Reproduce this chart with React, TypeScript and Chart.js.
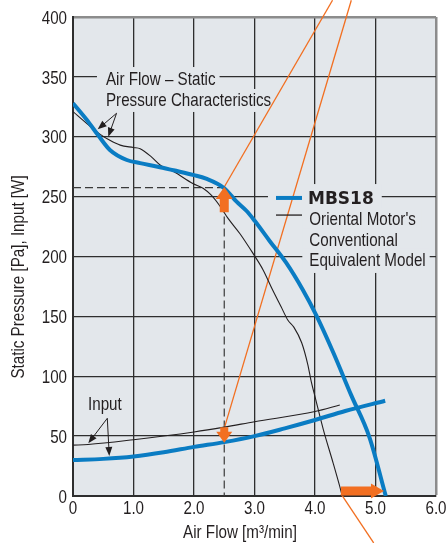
import React, { useEffect, useRef } from 'react';
import { Chart, registerables } from 'chart.js';

Chart.register(...registerables);

// ---------------- data ----------------
const xTickValues = [0, 1, 2, 3, 4, 5, 6];
const xTickLabels = ['0', '1.0', '2.0', '3.0', '4.0', '5.0', '6.0'];
const yTickValues = [0, 50, 100, 150, 200, 250, 300, 350, 400];
const yTickLabels = ['0', '50', '100', '150', '200', '250', '300', '350', '400'];

// MBS18 air flow – static pressure
const mbs18PressureFlow = [0, 0.23, 0.42, 0.61, 0.89, 1.11, 1.4, 1.66, 2.0, 2.2, 2.5, 2.7, 2.87, 3.0, 3.25, 3.52, 3.8, 4.02, 4.3, 4.6, 4.9, 5.17];
const mbs18Pressure = [328, 314, 301, 289, 280.6, 278, 275, 272, 268, 265, 257, 246, 238, 230, 213, 195, 172, 151, 120, 84, 49, 0];

// Conventional model air flow – static pressure
const convPressureFlow = [0, 0.23, 0.45, 0.61, 0.78, 1.0, 1.11, 1.3, 1.45, 1.66, 1.98, 2.15, 2.29, 2.43, 2.56, 2.76, 2.97, 3.14, 3.3, 3.44, 3.55, 3.65, 3.78, 3.88, 3.94, 4.0, 4.14, 4.3, 4.41, 4.45];
const convPressure = [321, 311, 302, 297, 293, 291, 290, 283, 276, 271, 261, 257, 251, 242, 232, 219, 203, 189, 172, 158, 147, 141, 128, 110, 95, 83, 55, 27.5, 7.8, 0];

// MBS18 input
const mbs18InputFlow = [0, 0.5, 1.0, 1.5, 2.0, 2.5, 3.0, 3.5, 4.0, 4.5, 5.16];
const mbs18Input = [30, 31, 33, 36.5, 41, 45, 50, 56.5, 63.5, 71, 79.5];

// Conventional model input
const convInputFlow = [0, 0.25, 1.0, 2.0, 2.5, 3.0, 4.0, 4.41];
const convInput = [42.5, 43, 47, 53.5, 57.5, 62, 70.5, 76];

// operating point reference (dashed)
const operatingFlow = [0, 2.5, 2.5];
const operatingValue = [257.5, 257.5, 0];

// orange improvement guide lines
const guidePressureFlow = [2.5, 4.29];
const guidePressureValue = [258, 414];
const guideInputFlow = [2.5, 4.6];
const guideInputValue = [56.5, 414];
const guideFlowFlow = [4.43, 4.97];
const guideFlowValue = [1.7, -39.2];

// orange block arrows [x1, y1, x2, y2]
const pressureArrow = [2.5, 237, 2.5, 258];
const inputArrow = [2.5, 57.5, 2.5, 44.5];
const flowArrow = [4.43, 4.2, 5.14, 4.2];

// annotation pointers
const pressurePointerFrom = [0.72, 319.6];
const pressurePointerTo = [[0.408, 306.2], [0.583, 300]];
const inputPointerFrom = [0.567, 64.9];
const inputPointerTo = [[0.253, 44], [0.6, 33.4]];

// ---------------- styles ----------------
const BLUE = '#0a7cc3';
const ORANGE = '#f26f21';
const BLACK = '#231f20';
const GRID = '#2e2e2e';
const EDGE = '#8c8c8c';
const PLOT_BG = '#e3e7eb';
const SANS = '"Liberation Sans", Arial, sans-serif';
const FS = 18.5;
const SX = 0.82; // horizontal condensation

const pts = (xs: number[], ys: number[]) => xs.map((x, i) => ({ x, y: ys[i] }));

function condensedText(ctx: CanvasRenderingContext2D, text: string, x: number, y: number, align: CanvasTextAlign, sx: number, rot = 0) {
  ctx.save();
  ctx.translate(x, y);
  if (rot) ctx.rotate(rot);
  ctx.scale(sx, 1);
  ctx.textAlign = align;
  ctx.textBaseline = 'alphabetic';
  ctx.fillText(text, 0, 0);
  ctx.restore();
}

function thinArrow(ctx: CanvasRenderingContext2D, x1: number, y1: number, x2: number, y2: number) {
  const dx = x2 - x1, dy = y2 - y1;
  const len = Math.hypot(dx, dy);
  const ux = dx / len, uy = dy / len;
  const nx = -uy, ny = ux;
  const hl = 9, hw = 3.5;
  ctx.beginPath();
  ctx.moveTo(x1, y1);
  ctx.lineTo(x2 - ux * hl * 0.6, y2 - uy * hl * 0.6);
  ctx.stroke();
  ctx.beginPath();
  ctx.moveTo(x2, y2);
  ctx.lineTo(x2 - ux * hl + nx * hw, y2 - uy * hl + ny * hw);
  ctx.lineTo(x2 - ux * hl - nx * hw, y2 - uy * hl - ny * hw);
  ctx.closePath();
  ctx.fill();
}

function blockArrow(ctx: CanvasRenderingContext2D, x1: number, y1: number, x2: number, y2: number, sw: number, hl: number, hw: number) {
  const dx = x2 - x1, dy = y2 - y1;
  const len = Math.hypot(dx, dy);
  const ux = dx / len, uy = dy / len;
  const nx = -uy, ny = ux;
  const bx = x2 - ux * hl, by = y2 - uy * hl;
  ctx.beginPath();
  ctx.moveTo(x1 + nx * sw / 2, y1 + ny * sw / 2);
  ctx.lineTo(bx + nx * sw / 2, by + ny * sw / 2);
  ctx.lineTo(bx + nx * hw / 2, by + ny * hw / 2);
  ctx.lineTo(x2, y2);
  ctx.lineTo(bx - nx * hw / 2, by - ny * hw / 2);
  ctx.lineTo(bx - nx * sw / 2, by - ny * sw / 2);
  ctx.lineTo(x1 - nx * sw / 2, y1 - ny * sw / 2);
  ctx.closePath();
  ctx.fill();
}

type Label = { text: string; x: number; y: number; font: string; sx: number; bg?: [number, number, number, number] };
// bg: [padLeft, padRight, above baseline, below baseline]
const labels: Label[] = [
  { text: 'Air Flow – Static', x: 0.545, y: 343.2, font: `${FS}px ${SANS}`, sx: SX, bg: [9, 4, 18, 4] },
  { text: 'Pressure Characteristics', x: 0.545, y: 325.7, font: `${FS}px ${SANS}`, sx: SX, bg: [6, 6, 17, 6] },
  { text: 'MBS18', x: 3.884, y: 243.8, font: `bold 17px "DejaVu Sans", sans-serif`, sx: 1, bg: [40, 8, 20, 4] },
  { text: "Oriental Motor's", x: 3.906, y: 226.3, font: `${FS}px ${SANS}`, sx: SX, bg: [7, 6, 17, 4] },
  { text: 'Conventional', x: 3.906, y: 208.8, font: `${FS}px ${SANS}`, sx: SX, bg: [7, 6, 17, 4] },
  { text: 'Equivalent Model', x: 3.906, y: 192.1, font: `${FS}px ${SANS}`, sx: SX, bg: [7, 4, 17, 7] },
  { text: 'Input', x: 0.248, y: 71.8, font: `${FS}px ${SANS}`, sx: SX },
];

const legendSamples = [
  { color: BLUE, width: 4, x1: 3.355, x2: 3.785, y: 248.9 },
  { color: BLACK, width: 1.3, x1: 3.355, x2: 3.785, y: 234.6 },
];

const chartPlugin = {
  id: 'decor',
  beforeDraw(chart: any) {
    const { ctx, chartArea: a } = chart;
    ctx.save();
    ctx.fillStyle = '#ffffff';
    ctx.fillRect(0, 0, chart.width, chart.height);
    ctx.fillStyle = PLOT_BG;
    ctx.fillRect(a.left, a.top, a.right - a.left, a.bottom - a.top);
    ctx.restore();
  },
  beforeDatasetsDraw(chart: any) {
    const { ctx } = chart;
    const xs = chart.scales.x, ys = chart.scales.y;
    ctx.save();
    ctx.fillStyle = PLOT_BG;
    for (const l of labels) {
      if (!l.bg) continue;
      ctx.font = l.font;
      const w = ctx.measureText(l.text).width * l.sx;
      const px = xs.getPixelForValue(l.x), py = ys.getPixelForValue(l.y);
      ctx.fillRect(px - l.bg[0], py - l.bg[2], w + l.bg[0] + l.bg[1], l.bg[2] + l.bg[3]);
    }
    ctx.restore();
  },
  afterDatasetsDraw(chart: any) {
    const { ctx, chartArea: a } = chart;
    const xs = chart.scales.x, ys = chart.scales.y;
    const X = (v: number) => xs.getPixelForValue(v);
    const Y = (v: number) => ys.getPixelForValue(v);
    ctx.save();
    // orange block arrows
    ctx.fillStyle = ORANGE;
    blockArrow(ctx, X(pressureArrow[0]), Y(pressureArrow[1]), X(pressureArrow[2]), Y(pressureArrow[3]), 9, 12, 17);
    blockArrow(ctx, X(inputArrow[0]), Y(inputArrow[1]), X(inputArrow[2]), Y(inputArrow[3]), 8, 11, 16);
    blockArrow(ctx, X(flowArrow[0]), Y(flowArrow[1]), X(flowArrow[2]), Y(flowArrow[3]), 9, 13, 15);
    // pointers
    ctx.strokeStyle = BLACK;
    ctx.fillStyle = BLACK;
    ctx.lineWidth = 1;
    for (const t of pressurePointerTo) thinArrow(ctx, X(pressurePointerFrom[0]), Y(pressurePointerFrom[1]), X(t[0]), Y(t[1]));
    for (const t of inputPointerTo) thinArrow(ctx, X(inputPointerFrom[0]), Y(inputPointerFrom[1]), X(t[0]), Y(t[1]));
    // legend samples
    for (const s of legendSamples) {
      ctx.strokeStyle = s.color;
      ctx.lineWidth = s.width;
      ctx.beginPath();
      ctx.moveTo(X(s.x1), Y(s.y));
      ctx.lineTo(X(s.x2), Y(s.y));
      ctx.stroke();
    }
    // labels
    ctx.fillStyle = BLACK;
    for (const l of labels) {
      ctx.font = l.font;
      condensedText(ctx, l.text, X(l.x), Y(l.y), 'left', l.sx);
    }
    // tick labels (positions from the chart's own scales)
    ctx.font = `${FS}px ${SANS}`;
    xs.ticks.forEach((t: any, i: number) => {
      condensedText(ctx, xTickLabels[i], xs.getPixelForValue(t.value), a.bottom + 17.5, 'center', SX);
    });
    ys.ticks.forEach((t: any, i: number) => {
      condensedText(ctx, yTickLabels[i], a.left - 6, ys.getPixelForValue(t.value) + 6.7, 'right', SX);
    });
    // axis titles
    condensedText(ctx, 'Air Flow [m³/min]', 240, 538, 'center', SX);
    condensedText(ctx, 'Static Pressure [Pa], Input [W]', 23.5, 277, 'center', SX, -Math.PI / 2);
    ctx.restore();
  },
};

export default function App() {
  const ref = useRef<HTMLCanvasElement>(null);
  useEffect(() => {
    const canvas = ref.current!;
    const line = (data: any, color: string, width: number, order: number, extra: any = {}) => ({
      data,
      borderColor: color,
      backgroundColor: color,
      borderWidth: width,
      pointRadius: 0,
      fill: false,
      order,
      cubicInterpolationMode: 'monotone',
      borderJoinStyle: 'round',
      ...extra,
    });
    const straight = { cubicInterpolationMode: 'default', tension: 0 };
    const chart = new Chart(canvas, {
      type: 'line',
      data: {
        datasets: [
          line(pts(mbs18PressureFlow, mbs18Pressure), BLUE, 4, 0),
          line(pts(mbs18InputFlow, mbs18Input), BLUE, 4, 0),
          line(pts(convPressureFlow, convPressure), BLACK, 1.1, 1),
          line(pts(convInputFlow, convInput), BLACK, 1.1, 1),
          line(pts(guidePressureFlow, guidePressureValue), ORANGE, 1.3, 2, { clip: false, ...straight }),
          line(pts(guideInputFlow, guideInputValue), ORANGE, 1.3, 2, { clip: false, ...straight }),
          line(pts(guideFlowFlow, guideFlowValue), ORANGE, 1.3, 2, { clip: false, ...straight }),
          line(pts(operatingFlow, operatingValue), '#3a3a3a', 1.2, 3, { borderDash: [8, 4], ...straight }),
        ] as any,
      },
      options: {
        responsive: false,
        animation: false,
        devicePixelRatio: 1,
        layout: { padding: { top: 17, right: 11, left: 0, bottom: 0 } },
        plugins: { legend: { display: false }, tooltip: { enabled: false } },
        scales: {
          x: {
            type: 'linear',
            min: 0,
            max: 6,
            afterBuildTicks: (s: any) => { s.ticks = xTickValues.map((v) => ({ value: v })); },
            afterFit: (s: any) => { s.height = 47; },
            ticks: { display: false, autoSkip: false },
            grid: {
              color: (c: any) => (c.tick && c.tick.value === 6 ? EDGE : GRID),
              lineWidth: (c: any) => (c.tick && c.tick.value === 6 ? 2.5 : 1.3),
              drawTicks: false,
            },
            border: { color: GRID, width: 2 },
          },
          y: {
            type: 'linear',
            min: 0,
            max: 400,
            afterBuildTicks: (s: any) => { s.ticks = yTickValues.map((v) => ({ value: v })); },
            afterFit: (s: any) => { s.width = 73; },
            ticks: { display: false, autoSkip: false },
            grid: {
              color: (c: any) => (c.tick && c.tick.value === 400 ? EDGE : GRID),
              lineWidth: (c: any) => (c.tick && c.tick.value === 400 ? 2.5 : 1.3),
              drawTicks: false,
            },
            border: { color: GRID, width: 2 },
          },
        },
      } as any,
      plugins: [chartPlugin],
    });
    return () => chart.destroy();
  }, []);
  return (
    <div style={{ position: 'fixed', left: 0, top: 0, width: 447, height: 543, background: '#fff' }}>
      <canvas ref={ref} width={447} height={543} style={{ display: 'block', width: 447, height: 543 }} />
    </div>
  );
}
